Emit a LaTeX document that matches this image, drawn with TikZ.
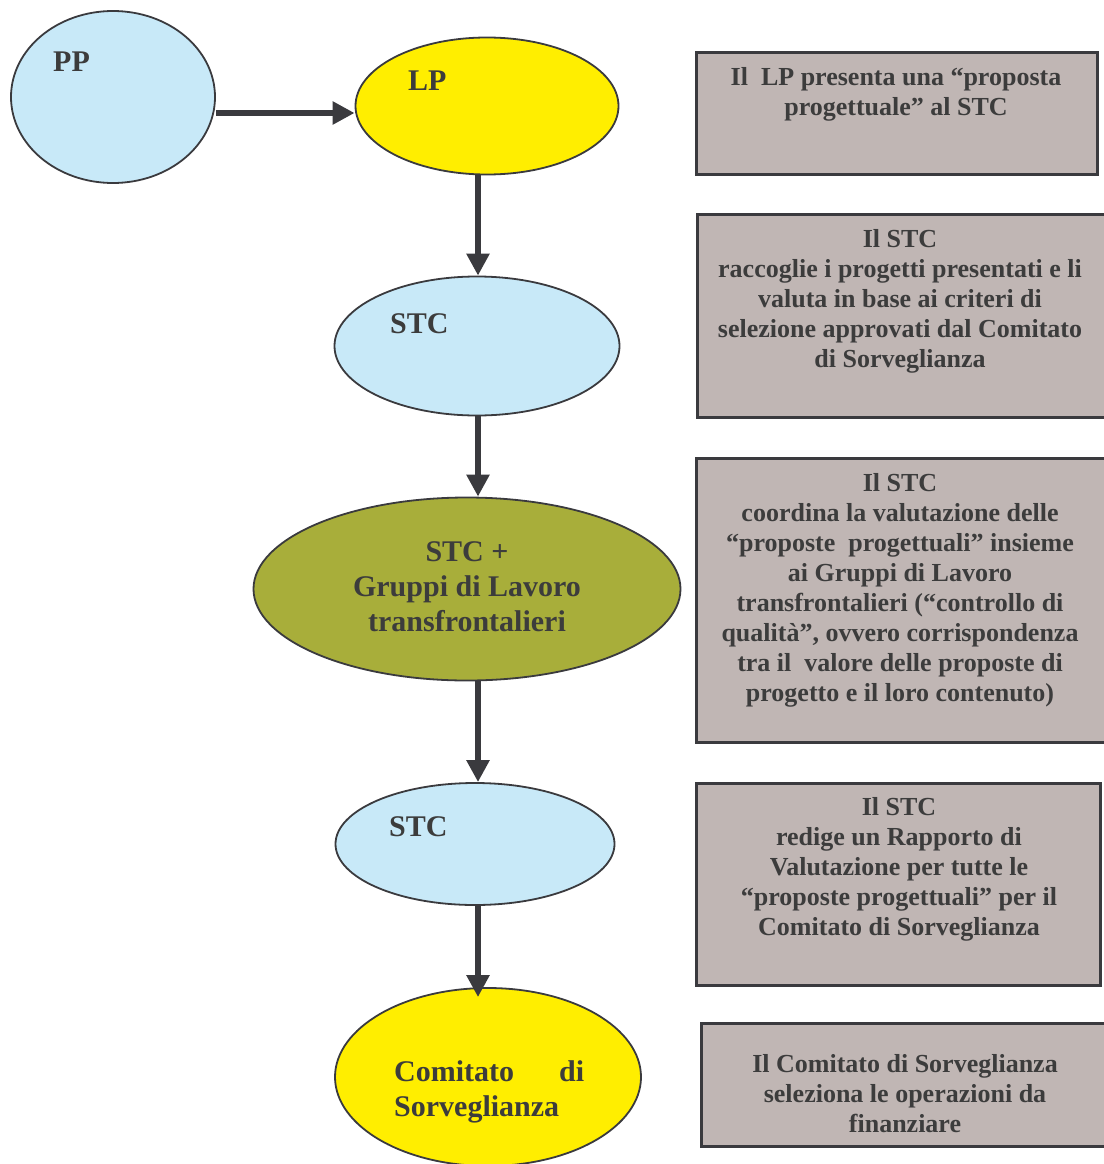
\documentclass[tikz,border=0pt]{standalone}
\usepackage{fontspec}
\setmainfont{Liberation Serif}
\usetikzlibrary{shapes.geometric,arrows.meta,calc}
\definecolor{ink}{HTML}{3A3A3E}
\definecolor{skyfill}{HTML}{C8E9F8}
\definecolor{sunfill}{HTML}{FFEE00}
\definecolor{olivefill}{HTML}{A8AE3A}
\definecolor{notefill}{HTML}{C0B6B4}
\definecolor{textgray}{HTML}{3C3C3C}
\begin{document}
\begin{tikzpicture}[x=1pt,y=-1pt,
  oval/.style={ellipse, draw=ink, line width=1.8pt, inner sep=0pt},
  ovaltext/.style={font=\fontsize{30}{35}\selectfont\bfseries, text=textgray, inner sep=0pt},
  note/.style={rectangle, draw=ink, line width=3pt, fill=notefill, inner sep=0pt},
  notetext/.style={font=\fontsize{26}{30}\selectfont\bfseries, text=textgray, align=center, inner sep=0pt, anchor=north},
  flow/.style={draw=ink, line width=6pt, -{Triangle[length=22pt,width=22pt]}}
]
\useasboundingbox (0,0) rectangle (1103,1164);

% process ovals
\node[oval, fill=skyfill,   minimum width=204pt, minimum height=172pt] (pp)   at (113,97)  {};
\node[oval, fill=sunfill,   minimum width=263pt, minimum height=137pt] (lp)   at (487,106) {};
\node[oval, fill=skyfill,   minimum width=285pt, minimum height=139pt] (stca) at (477,346) {};
\node[oval, fill=olivefill, minimum width=427pt, minimum height=183pt] (stcg) at (467,589) {};
\node[oval, fill=skyfill,   minimum width=279pt, minimum height=122pt] (stcb) at (475,844) {};
\node[oval, fill=sunfill,   minimum width=306pt, minimum height=178pt] (cs)   at (488,1077) {};

% oval labels
\node[ovaltext, anchor=base west] (pplab)   at (53,71)  {PP};
\node[ovaltext, anchor=base west] (lplab)   at (408,90) {LP};
\node[ovaltext, anchor=base west] (stcalab) at (390,333) {STC};
\node[ovaltext, anchor=base west] (stcblab) at (389,836) {STC};
\node[ovaltext, anchor=north, align=center] (stcglab) at (467,541)
  {STC +\\Gruppi di Lavoro\\transfrontalieri};
\node[ovaltext, anchor=north west] (cslab) at (394,1060)
  {\parbox{190pt}{\baselineskip=35pt Comitato\hfill di\\Sorveglianza}};

% connectors
\coordinate (spine) at (478,0);
\coordinate (row) at (0,113);
\draw[flow] (pp.east |- row) -- (lp.west |- row);
\draw[flow] (lp.south -| spine) -- (stca.north -| spine);
\draw[flow] (stca.south -| spine) -- (stcg.north -| spine);
\draw[flow] (stcg.south -| spine) -- (stcb.north -| spine);
\draw[flow] (stcb.south -| spine) -- ($(cs.north -| spine)+(0,10)$);

% description boxes
\node[note, minimum width=401pt, minimum height=121pt] (na) at (896.5,113.5) {};
\node[note, minimum width=409pt, minimum height=203pt] (nb) at (901.5,315.5) {};
\node[note, minimum width=410pt, minimum height=284pt] (nc) at (901,600) {};
\node[note, minimum width=404pt, minimum height=202pt] (nd) at (898,884) {};
\node[note, minimum width=407pt, minimum height=123pt] (ne) at (904.5,1084.5) {};

\node[notetext] (ta) at (896,67)
  {Il\ \ LP presenta una “proposta\\progettuale” al STC};
\node[notetext] (tb) at (900,229)
  {Il STC\\raccoglie i progetti presentati e li\\valuta in base ai criteri di\\selezione approvati dal Comitato\\di Sorveglianza};
\node[notetext] (tc) at (900,473)
  {Il STC\\coordina la valutazione delle\\“proposte\ \ progettuali” insieme\\ai Gruppi di Lavoro\\transfrontalieri (“controllo di\\qualità”, ovvero corrispondenza\\tra il\ \ valore delle proposte di\\progetto e il loro contenuto)};
\node[notetext] (td) at (899,797)
  {Il STC\\redige un Rapporto di\\Valutazione per tutte le\\“proposte progettuali” per il\\Comitato di Sorveglianza};
\node[notetext] (te) at (905,1054)
  {Il Comitato di Sorveglianza\\seleziona le operazioni da\\finanziare};
\end{tikzpicture}
\end{document}
